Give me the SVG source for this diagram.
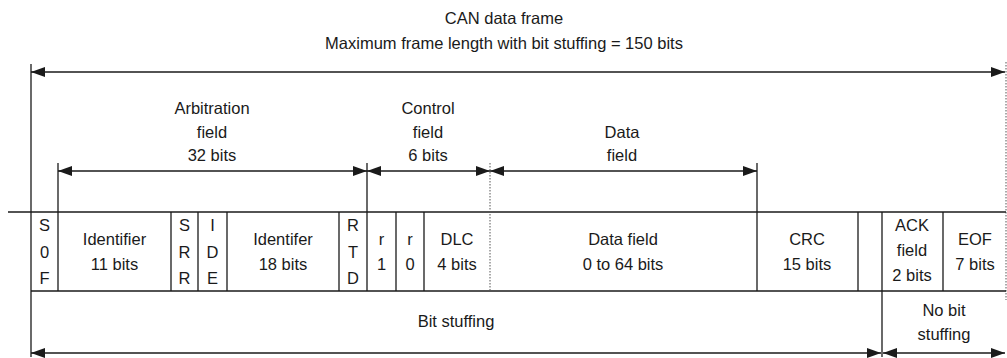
<svg xmlns="http://www.w3.org/2000/svg" width="1007" height="358" viewBox="0 0 1007 358">
<style>
text{font-family:"Liberation Sans",Arial,sans-serif;font-size:16.5px;fill:#1a1a1a;text-anchor:middle}
.ln{stroke:#1a1a1a;stroke-width:1.3;fill:none}
.dot{stroke:#555;stroke-width:1;stroke-dasharray:1.5 1.5;fill:none}
.ar{stroke:#1a1a1a;stroke-width:1.3;fill:none;marker-start:url(#ah);marker-end:url(#ah)}
</style>
<defs>
<marker id="ah" viewBox="0 0 14 10" refX="14" refY="5" markerWidth="14" markerHeight="10" markerUnits="userSpaceOnUse" orient="auto-start-reverse">
<path d="M0,0 L14,5 L0,10 Z" fill="#1a1a1a"/>
</marker>
</defs>
<g id="title">
<text x="504" y="24">CAN data frame</text>
<text x="504" y="49">Maximum frame length with bit stuffing = 150 bits</text>
</g>
<g id="labels-top">
<text x="212" y="114">Arbitration</text>
<text x="212" y="138">field</text>
<text x="212" y="161">32 bits</text>
<text x="428" y="114">Control</text>
<text x="428" y="138">field</text>
<text x="428" y="161">6 bits</text>
<text x="622" y="138">Data</text>
<text x="622" y="161">field</text>
</g>
<g id="frame-lines">
<line class="ln" x1="31" y1="64" x2="31" y2="357"/>
<line class="dot" x1="1006" y1="62" x2="1006" y2="300"/>
<line class="ln" x1="8" y1="212" x2="1006" y2="212"/>
<line class="ln" x1="31" y1="291" x2="1006" y2="291"/>
<line class="ln" x1="58" y1="163" x2="58" y2="291"/>
<line class="ln" x1="367" y1="163" x2="367" y2="291"/>
<line class="dot" x1="490" y1="163" x2="490" y2="291"/>
<line class="ln" x1="757" y1="163" x2="757" y2="291"/>
<line class="ln" x1="171" y1="212" x2="171" y2="291"/>
<line class="ln" x1="198" y1="212" x2="198" y2="291"/>
<line class="ln" x1="227" y1="212" x2="227" y2="291"/>
<line class="ln" x1="339" y1="212" x2="339" y2="291"/>
<line class="ln" x1="396" y1="212" x2="396" y2="291"/>
<line class="ln" x1="424" y1="212" x2="424" y2="291"/>
<line class="ln" x1="858" y1="212" x2="858" y2="291"/>
<line class="ln" x1="882" y1="212" x2="882" y2="357"/>
<line class="ln" x1="943" y1="212" x2="943" y2="291"/>
</g>
<g id="connectors">
<line class="ar" x1="31" y1="72" x2="1005" y2="72"/>
<line class="ar" x1="58" y1="171" x2="367" y2="171"/>
<line class="ar" x1="367" y1="171" x2="490" y2="171"/>
<line class="ar" x1="490" y1="171" x2="757" y2="171"/>
<line class="ar" x1="31" y1="353" x2="881" y2="353"/>
<line class="ar" x1="883" y1="353" x2="1005" y2="353"/>
</g>
<g id="sof"><text x="44.5" y="231">S</text><text x="44.5" y="258">0</text><text x="44.5" y="284">F</text></g>
<g id="identifier11"><text x="114.5" y="245">Identifier</text><text x="114.5" y="270">11 bits</text></g>
<g id="srr"><text x="184.5" y="231">S</text><text x="184.5" y="258">R</text><text x="184.5" y="284">R</text></g>
<g id="ide"><text x="212.5" y="231">I</text><text x="212.5" y="258">D</text><text x="212.5" y="284">E</text></g>
<g id="identifer18"><text x="283" y="245">Identifer</text><text x="283" y="270">18 bits</text></g>
<g id="rtd"><text x="353" y="231">R</text><text x="353" y="258">T</text><text x="353" y="284">D</text></g>
<g id="r1"><text x="381.5" y="245">r</text><text x="381.5" y="270">1</text></g>
<g id="r0"><text x="410" y="245">r</text><text x="410" y="270">0</text></g>
<g id="dlc"><text x="457" y="245">DLC</text><text x="457" y="270">4 bits</text></g>
<g id="datafield"><text x="623" y="245">Data field</text><text x="623" y="270">0 to 64 bits</text></g>
<g id="crc"><text x="807" y="245">CRC</text><text x="807" y="270">15 bits</text></g>
<g id="ack"><text x="912" y="231">ACK</text><text x="912" y="256">field</text><text x="912" y="281">2 bits</text></g>
<g id="eof"><text x="975" y="245">EOF</text><text x="975" y="270">7 bits</text></g>
<g id="stuffing-labels">
<text x="456" y="327">Bit stuffing</text>
<text x="944" y="316">No bit</text>
<text x="944" y="340">stuffing</text>
</g>
</svg>
